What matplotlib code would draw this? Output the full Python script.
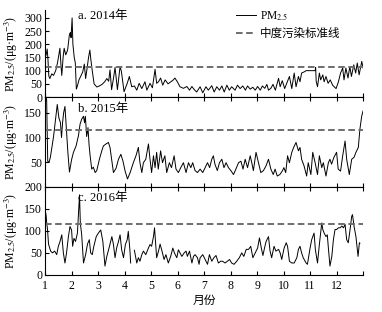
import numpy as np
import matplotlib
matplotlib.use('Agg')
import matplotlib.pyplot as plt

plt.rcParams['font.family'] = ['Liberation Serif', 'Noto Sans CJK SC']
plt.rcParams['mathtext.fontset'] = 'stix'
plt.rcParams['font.size'] = 8.5

# daily PM2.5 (x = month as decimal)
m14 = [1.00, 1.04, 1.08, 1.11, 1.14, 1.18, 1.25, 1.32, 1.40, 1.47, 1.56, 1.60, 1.63, 1.68, 1.72, 1.78,
       1.85, 1.92, 1.96, 1.98, 2.02, 2.05, 2.10, 2.14, 2.18, 2.22, 2.28, 2.35, 2.42, 2.48, 2.53, 2.58,
       2.64, 2.69, 2.73, 2.78, 2.85, 2.95, 3.05, 3.15, 3.25, 3.33, 3.40, 3.45, 3.51, 3.58, 3.64, 3.73,
       3.83, 3.88, 3.98, 4.10, 4.18, 4.27, 4.37, 4.46, 4.55, 4.65, 4.77, 4.84, 4.96, 5.05, 5.15, 5.21,
       5.28, 5.36, 5.44, 5.53, 5.64, 5.75, 5.84, 5.90, 5.99, 6.09, 6.22, 6.35, 6.45, 6.54, 6.63, 6.72,
       6.85, 6.95, 7.07, 7.16, 7.29, 7.38, 7.48, 7.58, 7.67, 7.76, 7.86, 7.95, 8.04, 8.17, 8.26, 8.36,
       8.46, 8.56, 8.64, 8.74, 8.84, 8.93, 9.02, 9.12, 9.20, 9.29, 9.37, 9.43, 9.52, 9.60, 9.69, 9.81,
       9.87, 9.95, 10.04, 10.12, 10.22, 10.31, 10.40, 10.47, 10.56, 10.62, 10.68, 10.77, 10.85, 11.19,
       11.21, 11.23, 11.28, 11.35, 11.40, 11.48, 11.53, 11.60, 11.68, 11.76, 11.85, 11.98, 12.07, 12.15,
       12.23, 12.28, 12.35, 12.43, 12.50, 12.56, 12.65, 12.72, 12.78, 12.85, 12.95, 13.00]
pm14 = [150, 160, 182, 140, 80, 70, 88, 82, 100, 130, 185, 120, 82, 150, 185, 160,
        178, 238, 245, 225, 300, 200, 150, 130, 30, 42, 65, 80, 95, 125, 70, 105,
        150, 178, 140, 100, 50, 38, 42, 48, 58, 70, 60, 103, 28, 70, 112, 28,
        116, 97, 20, 52, 78, 39, 42, 26, 52, 32, 58, 26, 52, 35, 105, 52,
        58, 72, 45, 65, 50, 58, 65, 72, 58, 39, 33, 40, 26, 40, 28, 19,
        39, 16, 39, 26, 43, 19, 39, 26, 42, 19, 45, 26, 39, 26, 45, 32,
        42, 26, 42, 30, 37, 26, 40, 26, 42, 33, 48, 26, 33, 48, 26, 71,
        39, 62, 32, 52, 78, 32, 91, 39, 78, 58, 91, 95, 100, 100,
        112, 60, 39, 91, 65, 84, 58, 78, 52, 65, 45, 32, 58, 91,
        110, 65, 110, 72, 116, 78, 122, 91, 129, 84, 135, 110]

m15 = [1.00, 1.03, 1.06, 1.10, 1.15, 1.20, 1.32, 1.40, 1.46, 1.52, 1.58, 1.62, 1.66, 1.70, 1.75, 1.80,
       1.86, 1.92, 2.00, 2.07, 2.17, 2.26, 2.32, 2.38, 2.45, 2.49, 2.52, 2.57, 2.62, 2.66, 2.70, 2.76,
       2.82, 2.89, 2.95, 3.05, 3.14, 3.20, 3.30, 3.39, 3.45, 3.52, 3.58, 3.68, 3.77, 3.86, 3.94, 4.02,
       4.11, 4.21, 4.33, 4.43, 4.52, 4.58, 4.65, 4.71, 4.80, 4.90, 4.96, 5.02, 5.09, 5.15, 5.21, 5.27,
       5.36, 5.43, 5.52, 5.59, 5.69, 5.77, 5.87, 5.94, 6.03, 6.12, 6.22, 6.32, 6.41, 6.50, 6.57, 6.66,
       6.75, 6.85, 6.95, 7.04, 7.13, 7.21, 7.29, 7.35, 7.41, 7.50, 7.58, 7.67, 7.75, 7.83, 7.92, 8.01,
       8.11, 8.20, 8.30, 8.39, 8.47, 8.55, 8.64, 8.74, 8.80, 8.86, 8.96, 9.05, 9.14, 9.24, 9.34, 9.43,
       9.52, 9.61, 9.68, 9.76, 9.86, 9.96, 10.01, 10.08, 10.15, 10.22, 10.31, 10.38, 10.47, 10.56, 10.62,
       10.68, 10.77, 10.87, 10.93, 11.03, 11.10, 11.19, 11.28, 11.35, 11.44, 11.50, 11.60, 11.69, 11.75,
       11.81, 11.90, 12.00, 12.06, 12.15, 12.23, 12.32, 12.38, 12.48, 12.57, 12.66, 12.73, 12.82, 12.88,
       12.95, 13.00]
pm15 = [150, 188, 175, 52, 50, 60, 102, 140, 167, 140, 130, 100, 130, 150, 163, 120,
        70, 30, 55, 70, 83, 104, 127, 137, 143, 130, 143, 102, 120, 85, 63, 36,
        40, 29, 33, 56, 73, 83, 87, 90, 80, 53, 29, 38, 56, 66, 52, 32,
        16, 29, 49, 63, 80, 49, 29, 49, 56, 87, 56, 29, 63, 39, 70, 36,
        73, 49, 63, 29, 49, 39, 63, 36, 29, 39, 49, 29, 49, 39, 49, 33,
        29, 36, 29, 39, 49, 39, 56, 63, 46, 33, 49, 56, 39, 49, 39, 33,
        25, 36, 49, 52, 36, 56, 39, 63, 49, 33, 70, 49, 29, 33, 43, 56,
        36, 25, 36, 22, 25, 33, 39, 29, 63, 49, 70, 80, 90, 73, 80,
        56, 43, 22, 49, 25, 70, 49, 25, 63, 39, 49, 22, 49, 56,
        46, 60, 70, 36, 32, 63, 93, 56, 25, 56, 60, 70, 80, 117,
        144, 154]

m16 = [1.00, 1.02, 1.04, 1.06, 1.09, 1.13, 1.21, 1.28, 1.36, 1.44, 1.50, 1.56, 1.63, 1.69, 1.75, 1.81,
       1.88, 1.94, 2.00, 2.04, 2.09, 2.15, 2.22, 2.27, 2.30, 2.33, 2.38, 2.45, 2.53, 2.60, 2.67, 2.72,
       2.78, 2.84, 2.93, 3.01, 3.10, 3.18, 3.26, 3.33, 3.43, 3.52, 3.58, 3.64, 3.70, 3.77, 3.83, 3.89,
       3.96, 4.03, 4.10, 4.14, 4.20, 4.23, 4.30, 4.37, 4.46, 4.52, 4.58, 4.65, 4.71, 4.80, 4.90, 4.96,
       5.02, 5.09, 5.13, 5.17, 5.21, 5.28, 5.34, 5.40, 5.49, 5.56, 5.65, 5.74, 5.82, 5.88, 5.97, 6.03,
       6.09, 6.16, 6.25, 6.32, 6.37, 6.45, 6.54, 6.60, 6.66, 6.75, 6.81, 6.85, 6.95, 7.04, 7.13, 7.20,
       7.29, 7.37, 7.45, 7.54, 7.63, 7.70, 7.79, 7.88, 7.96, 8.04, 8.13, 8.23, 8.33, 8.42, 8.50, 8.59,
       8.68, 8.76, 8.84, 8.93, 9.02, 9.09, 9.16, 9.22, 9.28, 9.34, 9.43, 9.49, 9.55, 9.64, 9.71, 9.81,
       9.87, 9.93, 10.02, 10.10, 10.15, 10.22, 10.31, 10.40, 10.50, 10.56, 10.62, 10.68, 10.74, 10.85,
       10.90, 11.00, 11.06, 11.15, 11.20, 11.28, 11.35, 11.44, 11.48, 11.53, 11.60, 11.65, 11.69, 11.75,
       11.82, 11.88, 11.94, 12.00, 12.07, 12.13, 12.20, 12.26, 12.32, 12.38, 12.44, 12.50, 12.57, 12.60,
       12.66, 12.73, 12.81, 12.86, 12.88]
pm16 = [132, 141, 135, 119, 105, 70, 54, 50, 54, 46, 65, 75, 91, 50, 27, 50,
        87, 110, 102, 65, 83, 76, 95, 148, 182, 118, 92, 27, 46, 70, 80, 50,
        46, 65, 87, 95, 102, 76, 20, 42, 65, 87, 69, 39, 61, 76, 91, 57,
        39, 69, 80, 99, 57, 27, np.nan, 56, 27, 39, 31, 46, 54, 46, 61, 69,
        65, 87, 107, 73, 39, 54, 70, 57, 35, 46, 27, 42, 61, 50, 39, 57,
        50, 42, 50, 54, 42, 54, 27, 42, 46, 39, 24, 39, 46, 35, 24, 46,
        31, 39, 44, 27, 31, 31, 27, 31, 35, 27, 24, 31, 39, 50, 42, 58,
        58, 65, 39, 50, 61, 84, 61, 44, 61, 76, 87, 54, 39, 65, 54, 58,
        50, 35, 61, 73, 65, 31, 27, 27, 39, 58, 65, 50, 39, 27,
        24, 61, 80, 95, 57, 27, 69, 118, 103, 95, 87, 91, 61, 20,
        42, 80, 103, 103, 107, 107, 111, 107, 115, 80, 73, 99, 133, 137,
        110, 87, 42, 73, 72]

years = ['a. 2014年', 'b. 2015年', 'c. 2016年']
months = [m14, m15, m16]
series = [pm14, pm15, pm16]
standard = 115  # 中度污染标准线
ylims = [330, 182, 200]
yticks = [[0, 50, 100, 150, 200, 250, 300], [50, 100, 150], [0, 50, 100, 150, 200]]

fig = plt.figure(figsize=(3.82, 3.12), dpi=100)
# [left, bottom, width, height] in figure fraction, stacked with no gap
rects = [[0.118, 0.689, 0.8325, 0.279],
         [0.118, 0.401, 0.8325, 0.288],
         [0.118, 0.119, 0.8325, 0.282]]
title_y = [1.0, 0.93, 0.94]

for i in range(3):
    ax = fig.add_axes(rects[i])
    l1, = ax.plot(months[i], series[i], color='black', lw=0.7, label='PM$_{2.5}$')
    l2 = ax.axhline(standard, color='#6e6e6e', lw=1.4, dashes=(3.4, 1.8), label='中度污染标准线')
    ax.set_xlim(1, 13)
    ax.set_ylim(0, ylims[i])
    ax.set_yticks(yticks[i])
    ax.set_xticks(range(1, 14))
    if i == 2:
        ax.set_xticklabels([str(k) for k in range(1, 13)] + [''])
        ax.set_xlabel('月份', labelpad=2, fontsize=8.5)
    else:
        ax.set_xticklabels([])
    ax.spines['right'].set_visible(False)
    if i == 0:
        ax.spines['top'].set_visible(False)
    ax.tick_params(direction='in', length=3, width=0.8, top=(i > 0), pad=2)
    ax.tick_params(axis='x', pad=4)
    ax.set_ylabel('PM$_{2.5}$/(μg·m$^{-3}$)', fontsize=8.5)
    ax.yaxis.set_label_coords(-0.078, 0.5)
    ax.text(0.105, title_y[i], years[i], transform=ax.transAxes, va='top', ha='left', fontsize=9)
    for s in ax.spines.values():
        s.set_linewidth(0.8)
    if i == 0:
        handles = [l1, l2]

fig.legend(handles=handles, loc='upper left', bbox_to_anchor=(0.605, 0.985), frameon=False,
           handlelength=1.8, handletextpad=0.3, labelspacing=0.45, fontsize=8.3, borderaxespad=0)

fig.savefig('out.png', dpi=100)
